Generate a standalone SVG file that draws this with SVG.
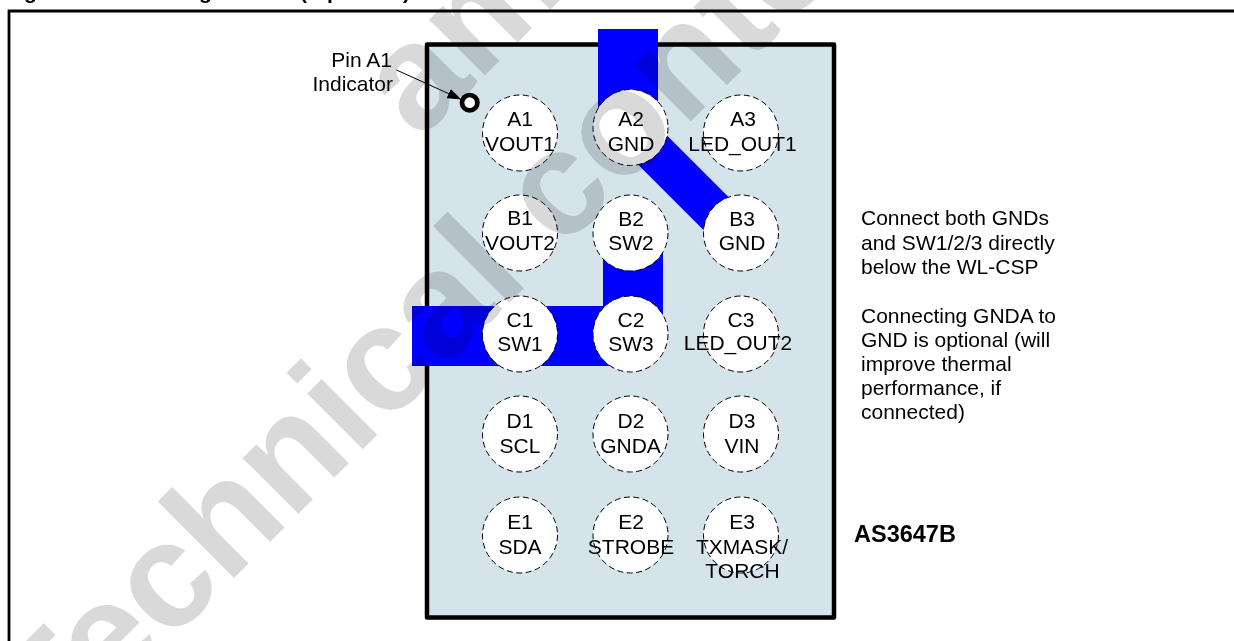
<svg xmlns="http://www.w3.org/2000/svg" width="1234" height="641" viewBox="0 0 1234 641">
<style>
text{font-family:"Liberation Sans",Arial,sans-serif;font-size:21px;fill:#000}
.m text{text-anchor:middle}
.pin{fill:#fff;stroke:#000;stroke-width:1;stroke-dasharray:6 3.500}
.wm{font-size:149px;font-weight:bold;fill:#d9d9d9}
</style>
<defs><marker id="ah" markerWidth="14" markerHeight="10" refX="13" refY="5" orient="auto" markerUnits="userSpaceOnUse"><path d="M0 0L14 5L0 10z" fill="#000"/></marker></defs>
<rect width="1234" height="641" fill="#fff"/>
<text x="24 199 300 327 403" y="-1" style="font-weight:bold">gg(p)</text>
<path d="M9 641V11H1234" fill="none" stroke="#000" stroke-width="2.800"/>
<rect id="package" x="427" y="44.500" width="407" height="573" fill="#d5e3eb" stroke="#000" stroke-width="4.500" stroke-linejoin="round"/>
<g id="connectors">
<path d="M598 29H658V140H598zM603 230H663V340H603zM412 306H640V366H412z" fill="#0000ff"/>
<path d="M630 127.500L741 238.500" stroke="#0000ff" stroke-width="41" fill="none"/>
<path d="M396.500 70L460.500 99" stroke="#000" stroke-width="1" fill="none" marker-end="url(#ah)"/>
</g>
<g id="pin-a1-indicator"><circle cx="469.700" cy="102.700" r="7.700" fill="#fff" stroke="#000" stroke-width="4.700"/>
<text x="392" y="67" text-anchor="end">Pin A1</text><text x="393" y="91" text-anchor="end">Indicator</text></g>
<g class="m">
<g id="A1"><ellipse class="pin" cx="520" cy="133" rx="37.500" ry="38"/><text x="520" y="126">A1</text><text x="520" y="150.500">VOUT1</text></g>
<g id="A2"><ellipse class="pin" cx="630.500" cy="127.500" rx="37.500" ry="38"/><text x="631" y="126">A2</text><text x="631" y="150.500">GND</text></g>
<g id="A3"><ellipse class="pin" cx="741" cy="133" rx="37.500" ry="38"/><text x="743" y="126">A3</text><text x="742.500" y="150.500">LED_OUT1</text></g>
<g id="B1"><ellipse class="pin" cx="520" cy="233" rx="37.500" ry="38"/><text x="520" y="225">B1</text><text x="520" y="250">VOUT2</text></g>
<g id="B2"><ellipse class="pin" cx="630.500" cy="233" rx="37.500" ry="38"/><text x="631" y="226">B2</text><text x="631" y="250">SW2</text></g>
<g id="B3"><ellipse class="pin" cx="741" cy="233" rx="37.500" ry="38"/><text x="742" y="226">B3</text><text x="742" y="250">GND</text></g>
<g id="C1"><ellipse class="pin" cx="520" cy="334" rx="37.500" ry="38"/><text x="520" y="327">C1</text><text x="520" y="351">SW1</text></g>
<g id="C2"><ellipse class="pin" cx="630.500" cy="334" rx="37.500" ry="38"/><text x="631" y="327">C2</text><text x="631" y="351">SW3</text></g>
<g id="C3"><ellipse class="pin" cx="741" cy="334" rx="37.500" ry="38"/><text x="741" y="327">C3</text><text x="738" y="350">LED_OUT2</text></g>
<g id="D1"><ellipse class="pin" cx="520" cy="434" rx="37.500" ry="38"/><text x="520" y="428">D1</text><text x="520" y="453">SCL</text></g>
<g id="D2"><ellipse class="pin" cx="630.500" cy="434" rx="37.500" ry="38"/><text x="631" y="428">D2</text><text x="630.500" y="453">GNDA</text></g>
<g id="D3"><ellipse class="pin" cx="741" cy="434" rx="37.500" ry="38"/><text x="742" y="428">D3</text><text x="742" y="453">VIN</text></g>
<g id="E1"><ellipse class="pin" cx="520" cy="535" rx="37.500" ry="38"/><text x="520" y="529">E1</text><text x="520" y="554">SDA</text></g>
<g id="E2"><ellipse class="pin" cx="630.500" cy="535" rx="37.500" ry="38"/><text x="631" y="529">E2</text><text x="631" y="554">STROBE</text></g>
<g id="E3"><ellipse class="pin" cx="741" cy="535" rx="37.500" ry="38"/><text x="742" y="529">E3</text><text x="742" y="554">TXMASK/</text><text x="742.500" y="578">TORCH</text></g>
</g>
<g id="notes">
<text x="861" y="225">Connect both GNDs</text>
<text x="861" y="250">and SW1/2/3 directly</text>
<text x="861" y="274">below the WL-CSP</text>
<text x="861" y="323">Connecting GNDA to</text>
<text x="861" y="347">GND is optional (will</text>
<text x="861" y="371">improve thermal</text>
<text x="861" y="395">performance, if</text>
<text x="861" y="419">connected)</text>
</g>
<text id="part" x="854" y="541.500" style="font-weight:bold;font-size:23.500px">AS3647B</text>
<g id="watermark" style="mix-blend-mode:multiply">
<text class="wm" transform="translate(53 759) rotate(-45)">Technical content</text>
<text class="wm" transform="translate(419 141) rotate(-45)">am</text>
</g>
</svg>
